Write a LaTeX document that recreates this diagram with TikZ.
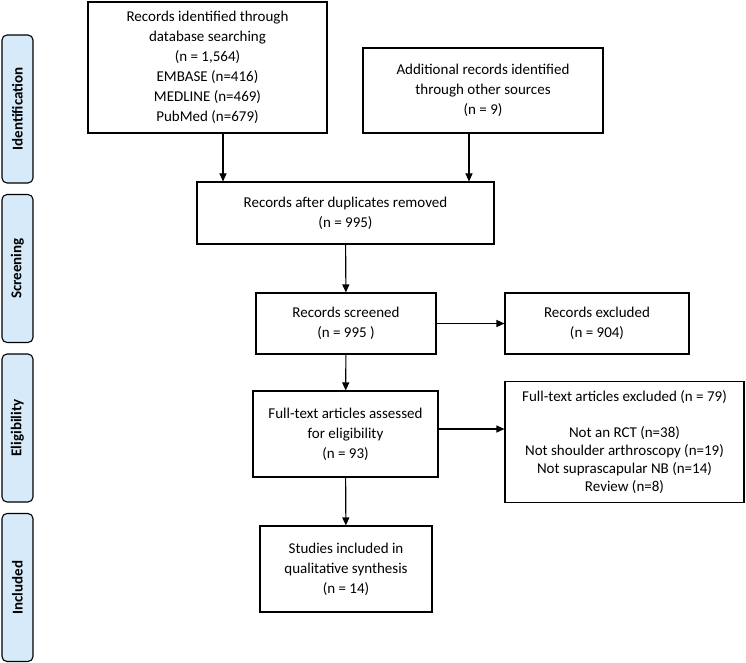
\documentclass[tikz,border=0pt]{standalone}
\usepackage{fontspec}
\setmainfont{Carlito}
\usetikzlibrary{arrows.meta}
\definecolor{phaseblue}{RGB}{214,234,250}
\tikzstyle{block} = [rectangle, draw=black, line width=1.1pt, align=center, inner sep=0pt, font=\fontsize{15}{20}\selectfont]
\tikzstyle{phase} = [rectangle, rounded corners=5pt, draw=black, line width=1.1pt, fill=phaseblue, rotate=90, minimum width=148pt, minimum height=31pt, font=\bfseries\fontsize{15}{18}\selectfont]
\tikzstyle{arrow} = [line width=1.1pt, -{Triangle[length=8pt,width=7pt]}]

\begin{document}
\begin{tikzpicture}[x=1pt, y=-1pt]
        \useasboundingbox (0,0) rectangle (746,663);

        \node (identification) [phase] at (17.5,109) {Identification};
        \node (screening) [phase] at (17.5,268.5) {Screening};
        \node (eligibility) [phase] at (17.5,428) {Eligibility};
        \node (included) [phase] at (17.5,587.5) {Included};

        \node (database) [block, minimum width=239pt, minimum height=131pt] at (207.5,67.5) {Records identified through\\database searching\\(n = 1,564)\\EMBASE (n=416)\\MEDLINE (n=469)\\PubMed (n=679)};
        \node (other) [block, minimum width=240pt, minimum height=85pt] at (483,90.5) {Additional records identified\\through other sources\\(n = 9)};
        \node (dedup) [block, minimum width=297pt, minimum height=62pt] at (345.5,213) {Records after duplicates removed\\(n = 995)};
        \node (screened) [block, minimum width=180pt, minimum height=61pt] at (346,323.5) {Records screened\\(n = 995 )};
        \node (excluded) [block, minimum width=184pt, minimum height=61pt] at (597,323.5) {Records excluded\\(n = 904)};
        \node (fulltext) [block, minimum width=185pt, minimum height=86pt] at (345.5,434) {Full-text articles assessed\\for eligibility\\(n = 93)};
        \node (ftexcluded) [block, minimum width=239pt, minimum height=121pt, font=\fontsize{15}{18}\selectfont] at (624.5,442) {Full-text articles excluded (n = 79)\\[18pt]Not an RCT (n=38)\\Not shoulder arthroscopy (n=19)\\Not suprascapular NB (n=14)\\Review (n=8)};
        \node (synthesis) [block, minimum width=172pt, minimum height=86pt] at (346,569) {Studies included in\\qualitative synthesis\\(n = 14)};

        \draw [arrow] ([xshift=15.5pt]database.south) -- ([xshift=15.5pt]database.south |- dedup.north);
        \draw [arrow] ([xshift=-14pt]other.south) -- ([xshift=-14pt]other.south |- dedup.north);
        \draw [arrow] (dedup) -- (screened);
        \draw [arrow] (screened) -- (excluded);
        \draw [arrow] (screened) -- (fulltext);
        \draw [arrow] ([yshift=5pt]fulltext.east) -- ([yshift=5pt]fulltext.east -| ftexcluded.west);
        \draw [arrow] (fulltext) -- (synthesis);
    \end{tikzpicture}
\end{document}
